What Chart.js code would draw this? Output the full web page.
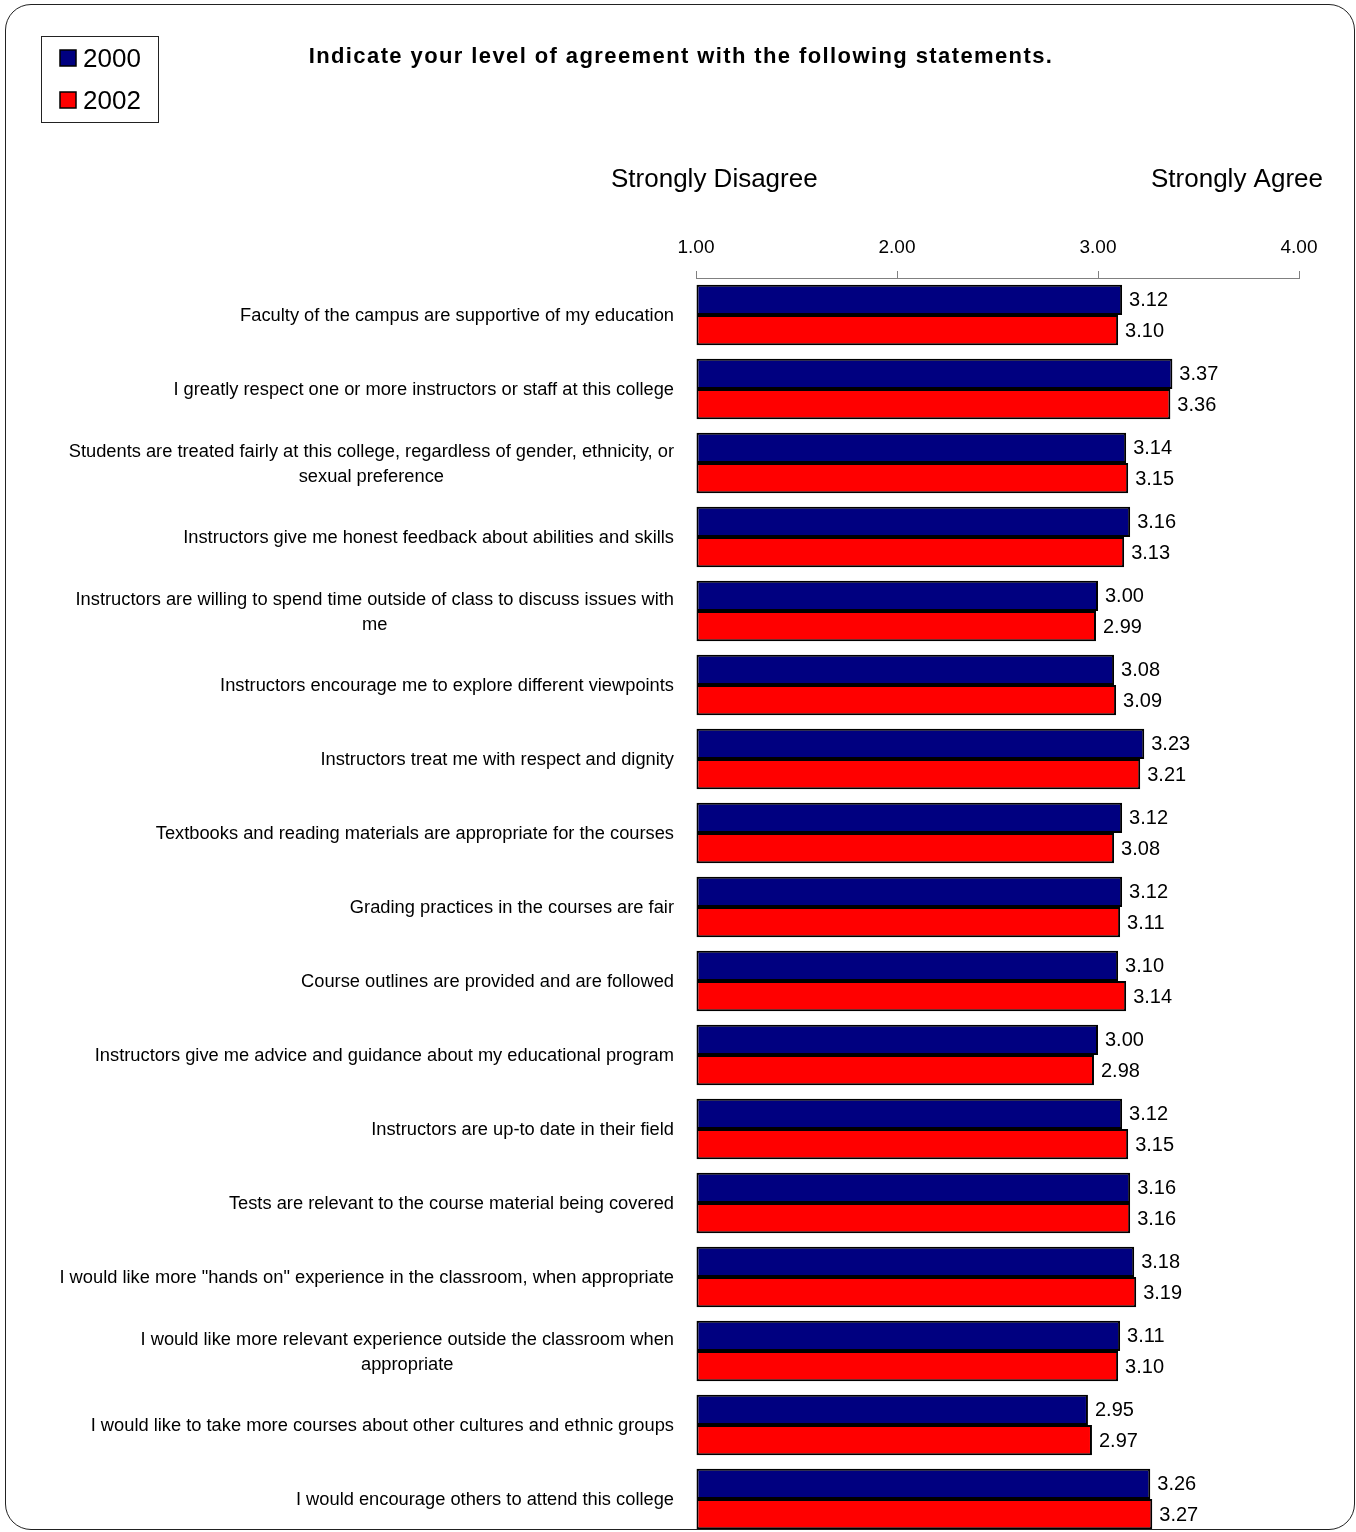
<!DOCTYPE html>
<html>
<head>
<meta charset="utf-8">
<script src="https://cdn.jsdelivr.net/npm/chart.js@4.4.0/dist/chart.umd.min.js"></script>
<style>
  body { margin: 0; background: #fff; }
  #wrap { position: relative; width: 1356px; height: 1532px; overflow: hidden; }
  #frame {
    position: absolute; left: 5px; top: 4px; width: 1348px; height: 1524px;
    border: 1.5px solid #222; border-radius: 26px; pointer-events: none;
  }
</style>
</head>
<body>
<div id="wrap">
  <canvas id="chart" width="1356" height="1536"></canvas>
  <div id="frame"></div>
</div>
<script>
// Survey statements (multi-line ones split as in the original)
const categories = [
  'Faculty of the campus are supportive of my education',
  'I greatly respect one or more instructors or staff at this college',
  ['Students are treated fairly at this college, regardless of gender, ethnicity, or', 'sexual preference'],
  'Instructors give me honest feedback about abilities and skills',
  ['Instructors are willing to spend time outside of class to discuss issues with', 'me'],
  'Instructors encourage me to explore different viewpoints',
  'Instructors treat me with respect and dignity',
  'Textbooks and reading materials are appropriate for the courses',
  'Grading practices in the courses are fair',
  'Course outlines are provided and are followed',
  'Instructors give me advice and guidance about my educational program',
  'Instructors are up-to date in their field',
  'Tests are relevant to the course material being covered',
  'I would like more "hands on" experience in the classroom, when appropriate',
  ['I would like more relevant experience outside the classroom when', 'appropriate'],
  'I would like to take more courses about other cultures and ethnic groups',
  'I would encourage others to attend this college'
];

const values2000 = [3.12, 3.37, 3.14, 3.16, 3.00, 3.08, 3.23, 3.12, 3.12, 3.10, 3.00, 3.12, 3.16, 3.18, 3.11, 2.95, 3.26];
const values2002 = [3.10, 3.36, 3.15, 3.13, 2.99, 3.09, 3.21, 3.08, 3.11, 3.14, 2.98, 3.15, 3.16, 3.19, 3.10, 2.97, 3.27];

const seriesNames = ['2000', '2002'];
const seriesColors = ['#000080', '#FF0000'];
const tickValues = [1, 2, 3, 4];

const titleText = 'Indicate your level of agreement with the following statements.';
const leftAnchor = 'Strongly Disagree';
const rightAnchor = 'Strongly Agree';

const FONT = "'Liberation Sans', Arial, sans-serif";
Chart.defaults.font.family = FONT;
Chart.defaults.color = '#000';

// category labels: right edge fixed, extra lines centred under the widest one
const categoryLabels = {
  id: 'categoryLabels',
  afterDraw(chart) {
    const ctx = chart.ctx;
    const y = chart.scales.y;
    const right = 674;
    const lineH = 25;
    ctx.save();
    ctx.font = '18.3px ' + FONT;
    ctx.fillStyle = '#000';
    ctx.textAlign = 'center';
    ctx.textBaseline = 'middle';
    categories.forEach((lab, i) => {
      const lines = Array.isArray(lab) ? lab : [lab];
      const maxW = Math.max(...lines.map(l => ctx.measureText(l).width));
      const cx = right - maxW / 2;
      const top = y.getPixelForValue(i) - (lines.length - 1) * lineH / 2 + 1;
      lines.forEach((l, k) => ctx.fillText(l, cx, top + k * lineH));
    });
    ctx.restore();
  }
};

// value labels at the end of each bar
const valueLabels = {
  id: 'valueLabels',
  afterDatasetsDraw(chart) {
    const ctx = chart.ctx;
    ctx.save();
    ctx.font = '20px ' + FONT;
    ctx.fillStyle = '#000';
    ctx.textAlign = 'left';
    ctx.textBaseline = 'middle';
    chart.data.datasets.forEach((ds, di) => {
      chart.getDatasetMeta(di).data.forEach((bar, i) => {
        ctx.fillText(ds.data[i].toFixed(2), bar.x + 7, bar.y + 1);
      });
    });
    ctx.restore();
  }
};

// title, anchor texts and boxed legend
const decorations = {
  id: 'decorations',
  afterDraw(chart) {
    const ctx = chart.ctx;
    ctx.save();
    ctx.fillStyle = '#000';
    ctx.textBaseline = 'middle';

    ctx.font = 'bold 22px ' + FONT;
    ctx.textAlign = 'center';
    ctx.letterSpacing = '1.4px';
    ctx.fillText(titleText, 681, 57);
    ctx.letterSpacing = '0px';

    ctx.font = '26px ' + FONT;
    ctx.textAlign = 'left';
    ctx.fillText(leftAnchor, 611, 180);
    ctx.textAlign = 'right';
    ctx.fillText(rightAnchor, 1323, 180);

    // legend
    ctx.strokeStyle = '#222';
    ctx.lineWidth = 1;
    ctx.strokeRect(41.5, 36.5, 117, 86);
    ctx.textAlign = 'left';
    seriesNames.forEach((name, i) => {
      const yy = 58 + i * 42;
      ctx.fillStyle = seriesColors[i];
      ctx.fillRect(60, yy - 8, 16, 16);
      ctx.lineWidth = 1.5;
      ctx.strokeStyle = '#000';
      ctx.strokeRect(60, yy - 8, 16, 16);
      ctx.fillStyle = '#000';
      ctx.fillText(name, 83, yy + 2);
    });
    ctx.restore();
  }
};

new Chart(document.getElementById('chart'), {
  type: 'bar',
  data: {
    labels: categories,
    datasets: [
      { label: seriesNames[0], data: values2000, backgroundColor: seriesColors[0] },
      { label: seriesNames[1], data: values2002, backgroundColor: seriesColors[1] }
    ]
  },
  options: {
    indexAxis: 'y',
    responsive: false,
    animation: false,
    devicePixelRatio: 1,
    layout: { padding: { left: 0, right: 57, top: 0, bottom: 0 } },
    datasets: {
      bar: {
        base: 1,
        borderColor: '#000',
        borderWidth: 2,
        borderSkipped: false,
        categoryPercentage: 0.82,
        barPercentage: 1.0
      }
    },
    plugins: {
      legend: { display: false },
      title: { display: false },
      tooltip: { enabled: false }
    },
    scales: {
      x: {
        position: 'top',
        min: 1,
        max: 4,
        afterFit: s => { s.height = 278; },
        afterBuildTicks: s => { s.ticks = tickValues.map(v => ({ value: v })); },
        ticks: {
          font: { size: 19 },
          color: '#000',
          padding: 12,
          callback: v => Number(v).toFixed(2)
        },
        grid: {
          drawOnChartArea: false,
          drawTicks: true,
          tickLength: 7,
          color: '#808080'
        },
        border: { display: true, color: '#808080', width: 1 }
      },
      y: {
        afterFit: s => { s.width = 696; },
        ticks: { display: false },
        grid: { display: false },
        border: { display: false }
      }
    }
  },
  plugins: [categoryLabels, valueLabels, decorations]
});
</script>
</body>
</html>
